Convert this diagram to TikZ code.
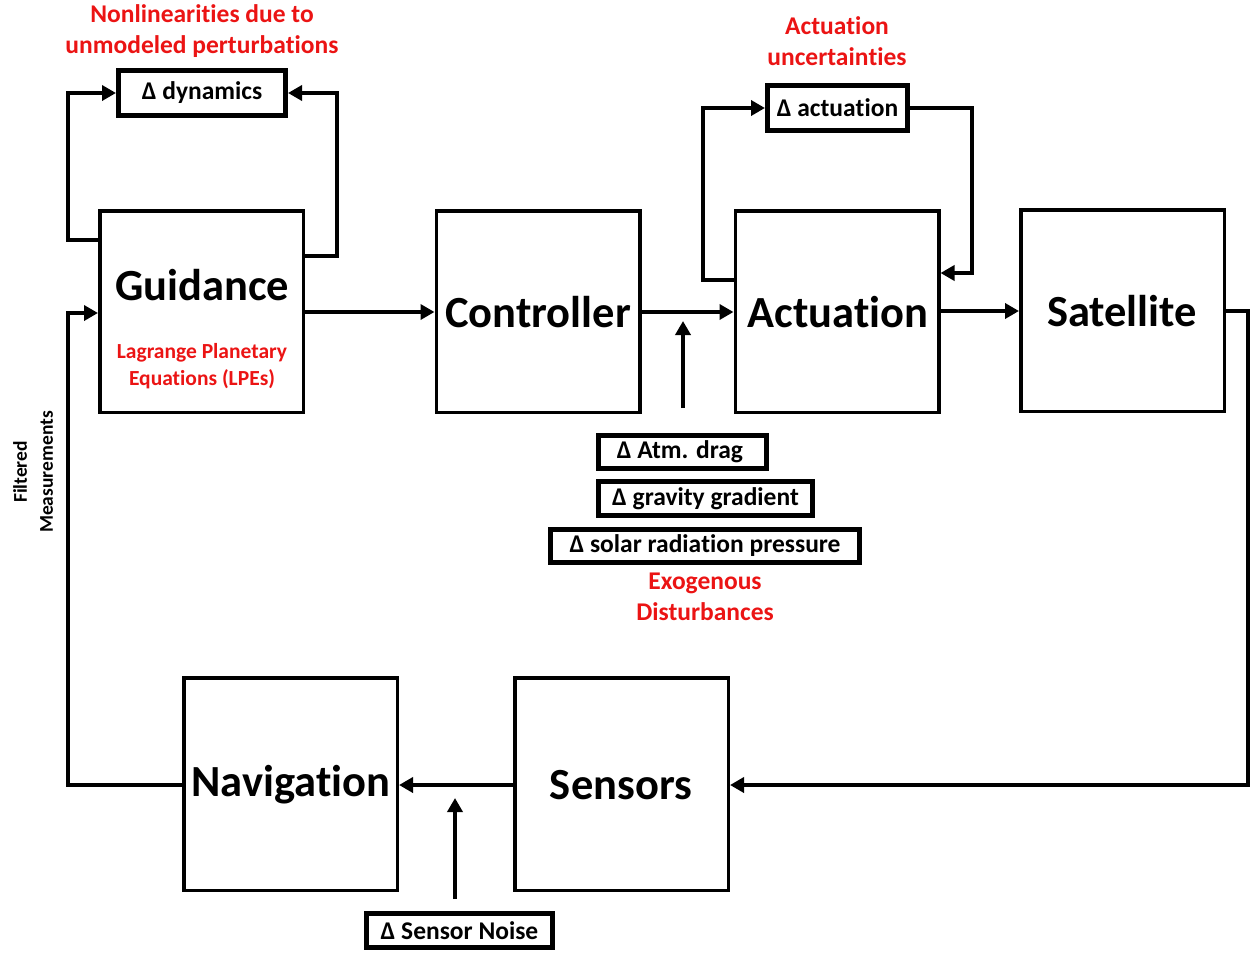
\documentclass[tikz,border=0pt]{standalone}
\usepackage{fontspec}
\setmainfont{Carlito}[RawFeature={-liga;-clig;-calt;-dlig;-hlig}]
\usetikzlibrary{arrows.meta}
\definecolor{lblred}{RGB}{235,20,20}
\begin{document}
\begin{tikzpicture}[x=1pt,y=-1pt,
  bigbox/.style={draw,line width=3.5pt,minimum width=203.5pt,minimum height=201.5pt,inner sep=0pt},
  dbox/.style={draw,line width=5pt,inner sep=0pt},
  bigtxt/.style={font=\fontsize{44.5}{48}\selectfont\bfseries,inner sep=0pt},
  smtxt/.style={font=\fontsize{25.5}{28}\selectfont\bfseries,inner sep=0pt},
  redtxt/.style={font=\fontsize{25.5}{31}\selectfont\bfseries,text=lblred,align=center,inner sep=0pt},
  redsm/.style={font=\fontsize{21.5}{27}\selectfont\bfseries,text=lblred,align=center,inner sep=0pt},
  arr/.style={line width=3.5pt,-{Triangle[length=14pt,width=15pt]}},
]
\useasboundingbox (0,0) rectangle (1250,953);
% main blocks
\node[bigbox] (guid) at (201.5,311.5) {};
\node[bigbox] (ctrl) at (538,311.5) {};
\node[bigbox] (act) at (837,311.5) {};
\node[bigbox] (sat) at (1122.5,310.5) {};
\node[bigbox,minimum width=213.5pt,minimum height=212.5pt] (nav) at (290.5,784) {};
\node[bigbox,minimum width=213.5pt,minimum height=212.5pt] (sens) at (621.5,784) {};
\node[bigtxt] (tguid) at (202,285) {Guidance};
\node[redsm] (tlpe) at (202,366) {Lagrange Planetary\\Equations (LPEs)};
\node[bigtxt] (tctrl) at (538,312) {Controller};
\node[bigtxt] (tact) at (838,312) {Actua\kern0pt tion};
\node[bigtxt] (tsat) at (1122,311) {Satellite};
\node[bigtxt] (tnav) at (291,785) {Naviga\kern0pt tion};
\node[bigtxt] (tsens) at (621,785) {Sensors};
% delta boxes
\node[dbox,minimum width=167pt,minimum height=45pt] (ddyn) at (202,93) {};
\node[smtxt] at (ddyn) {Δ dynamics};
\node[dbox,minimum width=140pt,minimum height=45pt] (dact) at (837.5,108) {};
\node[smtxt] at (dact) {Δ actua\kern0pt tion};
\node[dbox,minimum width=168pt,minimum height=33pt] (datm) at (682.5,451.5) {};
\node[smtxt] at (680,452) {Δ Atm. drag};
\node[dbox,minimum width=214pt,minimum height=34pt] (dgrav) at (705.5,498.5) {};
\node[smtxt] at (dgrav) {Δ gravity gradient};
\node[dbox,minimum width=309pt,minimum height=33pt] (dsol) at (705,546) {};
\node[smtxt] at (dsol) {Δ solar radia\kern0pt tion pressure};
\node[dbox,minimum width=186pt,minimum height=34pt] (dnoise) at (459.5,930.5) {};
\node[smtxt] at (dnoise) {Δ Sensor Noise};
% red labels
\node[redtxt] (lnl) at (202,31) {Nonlineari\kern0pt ties due to\\unmodeled perturba\kern0pt tions};
\node[redtxt] (lau) at (837,41) {Actua\kern0pt tion\\uncertain\kern0pt ties};
\node[redtxt] (lex) at (705,597) {Exogenous\\Disturbances};
\node[font=\fontsize{19.5}{26}\selectfont\bfseries,align=center,rotate=90,inner sep=0pt] (lfm) at (33,472) {Filtered\\Measurements};
% coordinates
\coordinate (up1) at (683,408);
\coordinate (up1e) at (683,321);
\coordinate (up2) at (455,899);
\coordinate (up2e) at (455,798);
% connectors
\draw[arr] (guid.east |- 0,312) -- (ctrl.west |- 0,312);
\draw[arr] (ctrl.east |- 0,312) -- (act.west |- 0,312);
\draw[arr] (up1) -- (up1e);
\draw[arr] (act.east |- 0,311) -- (sat.west |- 0,311);
\draw[arr] (sat.east |- 0,311) -- (1248,311) -- (1248,785) -- (sens.east |- 0,785);
\draw[arr] (sens.west |- 0,785) -- (nav.east |- 0,785);
\draw[arr] (up2) -- (up2e);
\draw[arr] (nav.west |- 0,785) -- (68,785) -- (68,313) -- (guid.west |- 0,313);
\draw[arr] (guid.west |- 0,240) -- (68,240) -- (68,93) -- (ddyn.west);
\draw[arr] (guid.east |- 0,256) -- (337,256) -- (337,93) -- (ddyn.east);
\draw[arr] (act.west |- 0,280) -- (703,280) -- (703,108) -- (dact.west);
\draw[arr] (dact.east) -- (972,108) -- (972,273) -- (act.east |- 0,273);
\end{tikzpicture}
\end{document}
